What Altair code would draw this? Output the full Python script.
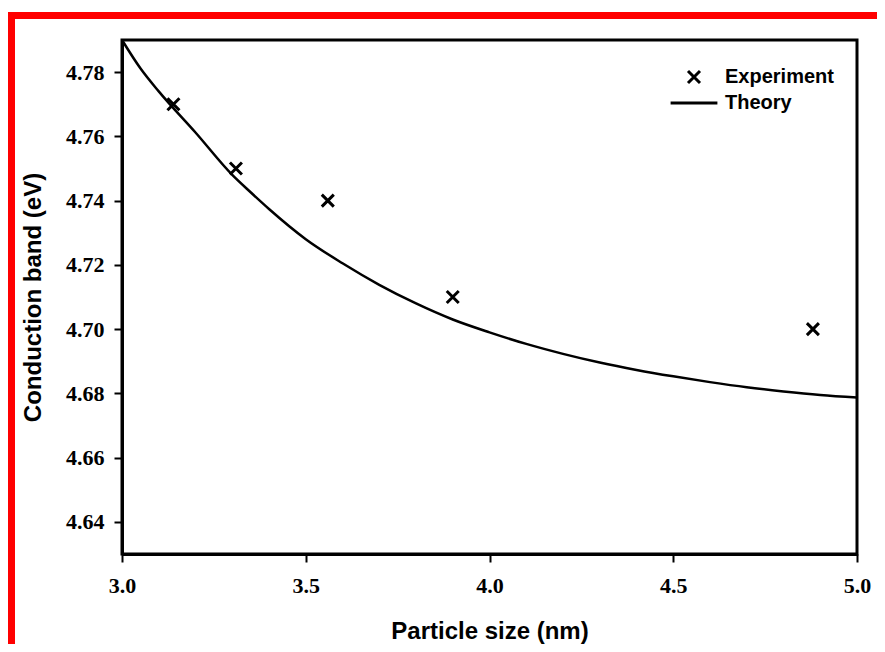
import altair as alt
import pandas as pd

# Experimental points (particle size in nm, conduction band in eV)
exp_size = [3.14, 3.31, 3.56, 3.90, 4.88]
exp_cb = [4.770, 4.750, 4.740, 4.710, 4.700]

# Theory curve
theory_size = [3.00, 3.05, 3.10, 3.20, 3.30, 3.35, 3.40, 3.50, 3.60, 3.70, 3.80, 3.90,
               4.00, 4.10, 4.20, 4.30, 4.40, 4.50, 4.60, 4.70, 4.80, 4.90, 5.00]
theory_cb = [4.7900, 4.7812, 4.7740, 4.7612, 4.7480, 4.7426, 4.7374, 4.7280, 4.7205, 4.7138,
             4.7080, 4.7030, 4.6990, 4.6954, 4.6923, 4.6896, 4.6873, 4.6853, 4.6835,
             4.6819, 4.6806, 4.6795, 4.6787]

x_ticks = [3.0, 3.5, 4.0, 4.5, 5.0]
y_ticks = [4.64, 4.66, 4.68, 4.70, 4.72, 4.74, 4.76, 4.78]
series_names = ["Experiment", "Theory"]

exp_df = pd.DataFrame({"size": exp_size, "cb": exp_cb, "series": series_names[0]})
th_df = pd.DataFrame({"size": theory_size, "cb": theory_cb, "series": series_names[1]})

W, H = 735, 514

x_scale = alt.Scale(domain=[3.0, 5.0], nice=False, zero=False)
y_scale = alt.Scale(domain=[4.63, 4.79], nice=False, zero=False)

x_axis = alt.Axis(values=x_ticks, format=".1f", title="Particle size (nm)",
                  titleY=84, titleBaseline="alphabetic")
y_axis = alt.Axis(values=y_ticks, format=".2f", title="Conduction band (eV)",
                  titleX=-82, titleBaseline="alphabetic", titleY=H / 2,
                  titleAngle=270)

X_PATH = "M-1,-1L1,1M1,-1L-1,1"
LINE_PATH = "M-3.9,0L3.9,0"

line = alt.Chart(th_df).mark_line(color="black", strokeWidth=2.5, interpolate="monotone").encode(
    x=alt.X("size:Q", scale=x_scale, axis=x_axis),
    y=alt.Y("cb:Q", scale=y_scale, axis=y_axis),
)

points = alt.Chart(exp_df).mark_point(filled=False, color="black", strokeWidth=3, size=144, opacity=1).encode(
    x=alt.X("size:Q", scale=x_scale),
    y=alt.Y("cb:Q", scale=y_scale),
    shape=alt.Shape("series:N",
                    scale=alt.Scale(domain=series_names, range=[X_PATH, LINE_PATH]),
                    legend=alt.Legend(title=None, orient="none", legendX=562, legendY=27,
                                      labelFont="Liberation Sans", labelFontWeight="bold",
                                      labelFontSize=20, labelColor="black", labelOffset=21,
                                      symbolStrokeColor="black", symbolFillColor="transparent",
                                      symbolStrokeWidth=3, symbolSize=144, rowPadding=4,
                                      symbolOpacity=1)),
)

frame_df = pd.DataFrame({"k": [0]})
frame_left = alt.Chart(frame_df).mark_rule(color="#ff0000", strokeWidth=8).encode(
    x=alt.value(-111), y=alt.value(-28), y2=alt.value(H + 90)
)
frame_top = alt.Chart(frame_df).mark_rule(color="#ff0000", strokeWidth=7).encode(
    x=alt.value(-115), x2=alt.value(W + 20), y=alt.value(-24.5)
)

chart = alt.layer(frame_left, frame_top, line, points).properties(
    width=W, height=H,
    autosize=alt.AutoSizeParams(type="none"),
    padding={"left": 114, "top": 32, "right": 20, "bottom": 90},
    background="white",
).configure_view(
    stroke="black", strokeWidth=3
).configure_axis(
    grid=False,
    domainColor="black", domainWidth=3,
    tickColor="black", tickWidth=2, tickSize=8,
    labelFont="Liberation Serif", labelFontWeight="bold", labelFontSize=22,
    labelColor="black", labelFlush=False, labelOverlap=False,
    titleFont="Liberation Sans", titleFontWeight="bold", titleFontSize=24,
    titleColor="black",
).configure_axisX(labelPadding=13).configure_axisY(labelPadding=10)

chart.save("out.html", embed_options={"renderer": "svg", "actions": False})
